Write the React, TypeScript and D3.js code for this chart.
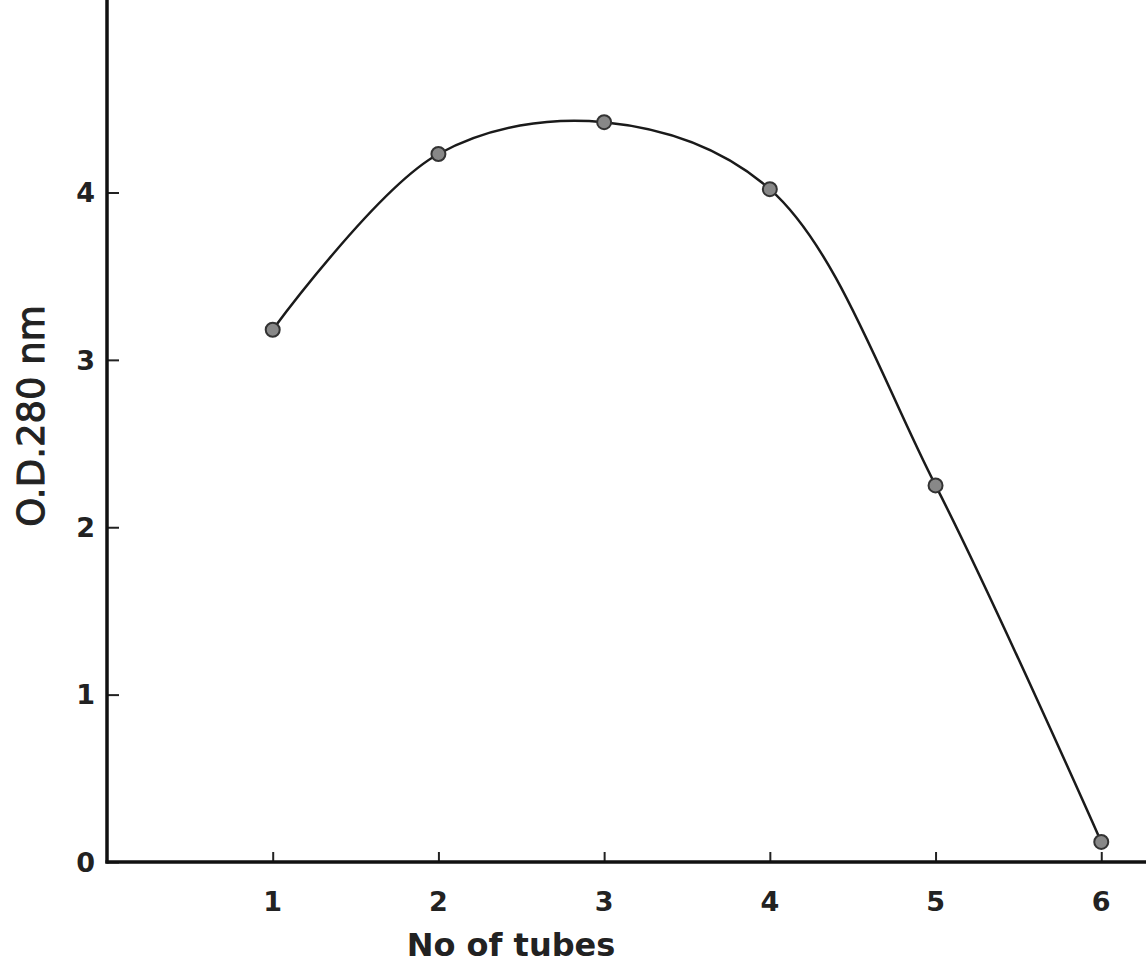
import React, { useEffect, useRef } from 'react';
import * as d3 from 'd3';

// tube number vs absorbance
const tubes = [1, 2, 3, 4, 5, 6];
const odValues = [3.18, 4.23, 4.42, 4.02, 2.25, 0.12];
const xTicks = [1, 2, 3, 4, 5, 6];
const yTicks = [0, 1, 2, 3, 4];

const W = 1146;
const H = 972;

const App: React.FC = () => {
  const ref = useRef<SVGSVGElement>(null);

  useEffect(() => {
    if (!ref.current) return;
    const svg = d3.select(ref.current);
    svg.selectAll('*').remove();

    const x0 = 107;
    const y0 = 862;

    const x = d3.scaleLinear().domain([0, 6.27]).range([x0, W]);
    const y = d3.scaleLinear().domain([0, 5.15]).range([y0, 0]);

    const font = "'DejaVu Sans', sans-serif";

    // Y axis (ticks point inward)
    const yAxis = svg.append('g')
      .attr('transform', `translate(${x0},0)`)
      .call(d3.axisRight(y).tickValues(yTicks).tickSize(12).tickFormat(() => ''));
    yAxis.select('.domain').remove();
    yAxis.selectAll('.tick line').attr('stroke', '#222').attr('stroke-width', 2);

    // X axis (ticks point upward)
    const xAxis = svg.append('g')
      .attr('transform', `translate(0,${y0})`)
      .call(d3.axisTop(x).tickValues(xTicks).tickSize(10).tickFormat(() => ''));
    xAxis.select('.domain').remove();
    xAxis.selectAll('.tick line').attr('stroke', '#222').attr('stroke-width', 2);

    // axis lines
    svg.append('line')
      .attr('x1', x0).attr('x2', x0)
      .attr('y1', 0).attr('y2', y0 + 1.5)
      .attr('stroke', '#111').attr('stroke-width', 3.5);
    svg.append('line')
      .attr('x1', x0 - 1.5).attr('x2', W)
      .attr('y1', y0).attr('y2', y0)
      .attr('stroke', '#111').attr('stroke-width', 3.5);

    // tick labels
    svg.selectAll('.ylab')
      .data(yTicks)
      .join('text')
      .attr('class', 'ylab')
      .attr('x', 95)
      .attr('y', d => y(d))
      .attr('dy', '0.36em')
      .attr('text-anchor', 'end')
      .attr('font-family', font)
      .attr('font-size', 27)
      .attr('font-weight', 'bold')
      .attr('fill', '#222')
      .text(d => String(d));

    svg.selectAll('.xlab')
      .data(xTicks)
      .join('text')
      .attr('class', 'xlab')
      .attr('x', d => x(d))
      .attr('y', 911)
      .attr('text-anchor', 'middle')
      .attr('font-family', font)
      .attr('font-size', 27)
      .attr('font-weight', 'bold')
      .attr('fill', '#222')
      .text(d => String(d));

    // axis titles
    svg.append('text')
      .attr('transform', `translate(44,416) rotate(-90)`)
      .attr('text-anchor', 'middle')
      .attr('font-family', font)
      .attr('font-size', 37)
      .attr('fill', '#222')
      .attr('stroke', '#222')
      .attr('stroke-width', 1)
      .text('O.D.280 nm');

    svg.append('text')
      .attr('x', 511)
      .attr('y', 956)
      .attr('text-anchor', 'middle')
      .attr('font-family', font)
      .attr('font-size', 32)
      .attr('font-weight', 'bold')
      .attr('fill', '#222')
      .text('No of tubes');

    // smooth curve
    const pts = tubes.map((t, i) => [t, odValues[i]] as [number, number]);
    const line = d3.line<[number, number]>()
      .x(d => x(d[0]))
      .y(d => y(d[1]))
      .curve(d3.curveCatmullRom.alpha(0.5));

    svg.append('path')
      .datum(pts)
      .attr('fill', 'none')
      .attr('stroke', '#1a1a1a')
      .attr('stroke-width', 2.5)
      .attr('d', line);

    // data points
    svg.selectAll('.pt')
      .data(pts)
      .join('circle')
      .attr('class', 'pt')
      .attr('cx', d => x(d[0]))
      .attr('cy', d => y(d[1]))
      .attr('r', 7)
      .attr('fill', '#888')
      .attr('stroke', '#333')
      .attr('stroke-width', 2);
  }, []);

  return (
    <svg
      ref={ref}
      width={W}
      height={H}
      style={{ position: 'absolute', left: 0, top: 0, background: '#fff' }}
    />
  );
};

export default App;
